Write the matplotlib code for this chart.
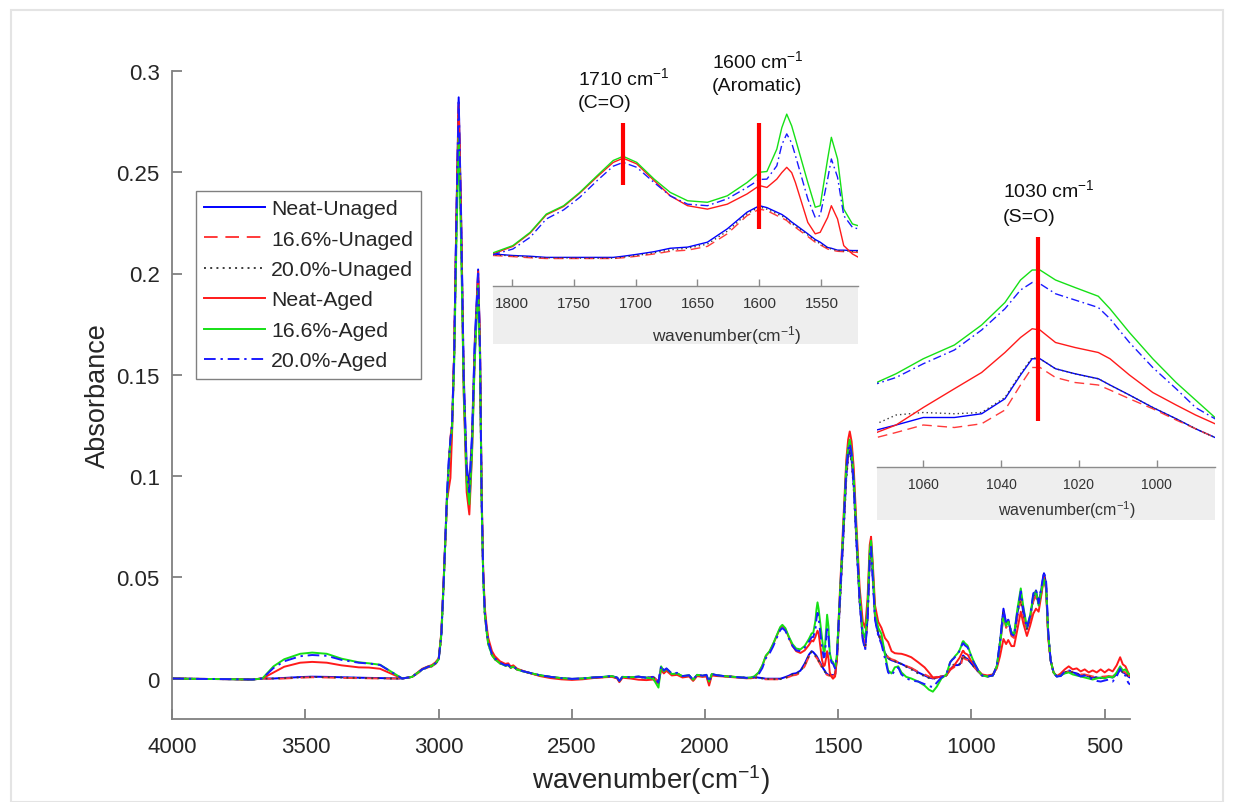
import matplotlib
matplotlib.use('Agg')
import matplotlib.pyplot as plt
from matplotlib.patches import Rectangle

plt.rcParams['font.family'] = ['Liberation Sans', 'DejaVu Sans']
plt.rcParams['mathtext.fontset'] = 'custom'
plt.rcParams['mathtext.rm'] = 'Liberation Sans'
plt.rcParams['mathtext.it'] = 'Liberation Sans:italic'
plt.rcParams['mathtext.bf'] = 'Liberation Sans:bold'

# ---------------- data (wavenumber in cm-1, absorbance) ----------------
wavenumber = [
    4000, 3900, 3800, 3700, 3662, 3620, 3580, 3520, 3475, 3420, 3365, 3300, 3262, 3220, 3180,
    3137, 3100, 3062, 3040, 3026, 3012, 3000, 2990, 2981, 2969, 2962, 2956, 2950, 2942, 2934,
    2925, 2916, 2906, 2895, 2885, 2875, 2865, 2852, 2845, 2839, 2833, 2827, 2820, 2814, 2800,
    2789, 2770, 2750, 2739, 2730, 2720, 2705, 2680, 2650, 2620, 2580, 2540, 2500, 2460, 2420,
    2380, 2350, 2330, 2322, 2310, 2280, 2250, 2220, 2195, 2175, 2165, 2155, 2145, 2125, 2105,
    2085, 2060, 2045, 2030, 2010, 1995, 1985, 1975, 1955, 1930, 1900, 1870, 1845, 1828,
    1815, 1799, 1785, 1772, 1758, 1745, 1731, 1718, 1710, 1699, 1685, 1672, 1658, 1642, 1626,
    1610, 1600, 1594, 1586, 1582, 1578, 1574, 1571, 1561, 1555, 1551, 1545, 1542, 1537, 1532,
    1525, 1520,
    1512, 1505, 1495, 1482, 1470, 1463, 1457, 1450, 1442, 1432, 1420, 1408, 1399, 1390, 1382,
    1377, 1371, 1362, 1350, 1338, 1325, 1313, 1300, 1288, 1275, 1263, 1245, 1226, 1200, 1176,
    1160, 1145, 1130, 1113, 1095, 1080,
    1072, 1067, 1060, 1052, 1045, 1039, 1035, 1032, 1030, 1026, 1021, 1015, 1012, 1007, 1001,
    995, 990, 985,
    975, 960, 940, 920, 905, 893, 880, 870, 862, 850, 840, 828, 815, 805, 792,
    780, 768, 758, 748, 738, 728, 720, 712, 703, 692, 680, 665, 650, 635, 620,
    605, 590, 575, 560, 545, 530, 515, 500, 485, 470, 455, 442, 432, 422, 412, 405,
]

neat_unaged = [
    0, -0.0002, -0.0003, -0.0005, 0, 0.0, 0.0003, 0.0007, 0.0009, 0.0008, 0.0006, 0.0004, 0.0003, 0.0002, 0.0001,
    0, 0.0008, 0.0045, 0.0058, 0.0062, 0.0075, 0.0095, 0.022, 0.049, 0.09, 0.108, 0.118, 0.125, 0.16, 0.225,
    0.287, 0.23, 0.15, 0.105, 0.095, 0.12, 0.165, 0.202, 0.165, 0.092, 0.052, 0.033, 0.024, 0.018, 0.012,
    0.01, 0.0078, 0.0065, 0.0068, 0.0055, 0.006, 0.0045, 0.0035, 0.0025, 0.0016, 0.0008, 0.0002, -0.0002, 0.0, 0.0005,
    0.0008, 0.0012, 0.0004, -0.0012, 0.0008, 0.0006, 0.0009, 0.0004, 0.0008, -0.0015, 0.0055, 0.003, 0.0045, 0.002, 0.0025,
    0.001, 0.0015, -0.0008, 0.0018, 0.0012, 0.0015, -0.002, 0.002, 0.0015, 0.0012, 0.0009, 0.0006, 0.0003, 0.0004,
    0.0008, 0.0004, 0.0002, -0.0001, -0.0001, -0.0001, -0.0001, -0.0001, 0.0002, 0.0007, 0.0014, 0.0023, 0.0026, 0.0039, 0.0074,
    0.0118, 0.0135, 0.0130, 0.0118, 0.0112, 0.0103, 0.0092, 0.0085, 0.0061, 0.0046, 0.0039, 0.0025, 0.0023, 0.0018, 0.0018,
    0.0017, 0.0017,
    0.002, 0.010, 0.035, 0.068, 0.100, 0.110, 0.113, 0.108, 0.095, 0.068, 0.038, 0.020, 0.015, 0.030, 0.060,
    0.067, 0.052, 0.030, 0.022, 0.018, 0.0125, 0.010, 0.009, 0.0085, 0.0078, 0.0072, 0.006, 0.005, 0.003, 0.0015,
    0.0005, 0.0, 0.0005, 0.001, 0.0015, 0.0045,
    0.0056, 0.0060, 0.0066, 0.0066, 0.0069, 0.0081, 0.0100, 0.0113, 0.0113, 0.0105, 0.0101, 0.0097, 0.0092, 0.0084, 0.0074,
    0.0065, 0.0057, 0.0050,
    0.0035, 0.0015, 0.001, 0.0015, 0.006, 0.018, 0.0345, 0.027, 0.029, 0.022, 0.021, 0.032, 0.041, 0.032, 0.0245,
    0.030, 0.040, 0.0435, 0.037, 0.044, 0.052, 0.047, 0.022, 0.009, 0.003, 0.001, 0.0015, 0.003, 0.0035, 0.003,
    0.0025, 0.0015, 0.0018, 0.001, 0.0005, 0.0005, 0.0002, 0.0005, 0.0008, 0.0005, 0.002, 0.0045, 0.003, 0.0025, 0.001, 0.0005,
]

p166_unaged = [
    0, -0.0002, -0.0003, -0.0005, 0, -0.0002, 0.0, 0.0004, 0.0006, 0.0005, 0.0003, 0.0002, 0.0001, 0.0, 0.0,
    0, 0.0008, 0.004, 0.0055, 0.006, 0.0072, 0.0092, 0.021, 0.048, 0.088, 0.106, 0.119, 0.126, 0.16, 0.222,
    0.283, 0.226, 0.146, 0.1, 0.089, 0.115, 0.16, 0.198, 0.162, 0.09, 0.051, 0.032, 0.023, 0.017, 0.0115,
    0.0095, 0.0075, 0.0062, 0.0065, 0.0053, 0.0058, 0.0043, 0.0033, 0.0024, 0.0015, 0.0007, 0.0001, -0.0003, -0.0001, 0.0004,
    0.0007, 0.001, 0.0003, -0.0013, 0.0007, 0.0005, 0.0008, 0.0003, 0.0007, -0.0016, 0.0052, 0.003, 0.0044, 0.002, 0.0024,
    0.001, 0.0014, -0.0008, 0.0017, 0.0011, 0.0014, -0.002, 0.002, 0.0015, 0.0012, 0.0009, 0.0006, 0.0002, 0.0001,
    0.0004, 0.0001, -0.0002, -0.0004, -0.0004, -0.0004, -0.0004, -0.0004, -0.0002, 0.0002, 0.0008, 0.0015, 0.0018, 0.0028, 0.0061,
    0.0109, 0.0126, 0.0122, 0.0109, 0.0103, 0.0096, 0.0084, 0.0078, 0.0054, 0.0039, 0.0032, 0.0021, 0.0018, 0.0015, 0.0014,
    0.0013, 0.0012,
    0.002, 0.010, 0.036, 0.070, 0.102, 0.112, 0.115, 0.110, 0.097, 0.070, 0.040, 0.021, 0.016, 0.031, 0.061,
    0.068, 0.053, 0.031, 0.023, 0.019, 0.013, 0.0105, 0.0095, 0.009, 0.008, 0.0075, 0.0062, 0.0052, 0.0033, 0.002,
    0.001, 0.0003, 0.0008, 0.0012, 0.0015, 0.0042,
    0.0050, 0.0054, 0.0060, 0.0058, 0.0061, 0.0072, 0.0092, 0.0106, 0.0106, 0.0098, 0.0094, 0.0092, 0.0088, 0.0081, 0.0073,
    0.0064, 0.0057, 0.0050,
    0.0035, 0.0015, 0.001, 0.0015, 0.006, 0.016, 0.031, 0.025, 0.027, 0.021, 0.020, 0.030, 0.039, 0.031, 0.024,
    0.029, 0.038, 0.041, 0.036, 0.042, 0.049, 0.045, 0.021, 0.009, 0.003, 0.001, 0.0015, 0.003, 0.0035, 0.0032,
    0.0028, 0.002, 0.002, 0.0015, 0.001, 0.0008, 0.0008, 0.001, 0.0012, 0.001, 0.0025, 0.005, 0.0035, 0.003, 0.0015, 0.001,
]

p200_unaged = [
    0, -0.0002, -0.0003, -0.0005, 0, 0.0, 0.0002, 0.0006, 0.0008, 0.0007, 0.0005, 0.0003, 0.0002, 0.0001, 0.0,
    0, 0.0008, 0.0042, 0.0056, 0.006, 0.0073, 0.0093, 0.021, 0.047, 0.087, 0.105, 0.116, 0.123, 0.158, 0.218,
    0.278, 0.222, 0.145, 0.1, 0.09, 0.115, 0.16, 0.196, 0.16, 0.089, 0.05, 0.032, 0.023, 0.017, 0.0115,
    0.0095, 0.0075, 0.0063, 0.0066, 0.0054, 0.0058, 0.0044, 0.0034, 0.0024, 0.0015, 0.0007, 0.0001, -0.0003, -0.0001, 0.0004,
    0.0007, 0.001, 0.0003, -0.0013, 0.0007, 0.0005, 0.0008, 0.0003, 0.0007, -0.0016, 0.0053, 0.003, 0.0044, 0.002, 0.0024,
    0.001, 0.0014, -0.0008, 0.0017, 0.0011, 0.0014, -0.002, 0.002, 0.0015, 0.0012, 0.0009, 0.0006, 0.0003, 0.0002,
    0.0006, 0.0003, 0.0, -0.0002, -0.0002, -0.0003, -0.0003, -0.0003, 0.0, 0.0004, 0.0011, 0.0019, 0.0023, 0.0034, 0.0068,
    0.0114, 0.0132, 0.0126, 0.0114, 0.0108, 0.0100, 0.0088, 0.0082, 0.0058, 0.0043, 0.0035, 0.0024, 0.0021, 0.0017, 0.0016,
    0.0015, 0.0015,
    0.002, 0.010, 0.034, 0.067, 0.099, 0.109, 0.112, 0.107, 0.094, 0.067, 0.038, 0.020, 0.015, 0.030, 0.059,
    0.066, 0.051, 0.030, 0.022, 0.018, 0.0125, 0.010, 0.009, 0.0085, 0.0078, 0.0072, 0.0058, 0.0045, 0.0025, 0.0012,
    0.0003, -0.0003, 0.0005, 0.001, 0.0015, 0.005,
    0.0061, 0.0068, 0.0070, 0.0069, 0.0070, 0.0082, 0.0101, 0.0114, 0.0113, 0.0105, 0.0101, 0.0097, 0.0092, 0.0084, 0.0074,
    0.0065, 0.0057, 0.0050,
    0.0035, 0.0015, 0.001, 0.0015, 0.006, 0.018, 0.034, 0.027, 0.029, 0.022, 0.021, 0.032, 0.040, 0.032, 0.0245,
    0.030, 0.040, 0.043, 0.037, 0.044, 0.051, 0.046, 0.022, 0.009, 0.003, 0.001, 0.0015, 0.003, 0.0035, 0.003,
    0.0025, 0.0015, 0.0015, 0.001, 0.0005, 0.0005, 0.0003, 0.0005, 0.0008, 0.0005, 0.002, 0.0045, 0.003, 0.0025, 0.001, 0.0005,
]

neat_aged = [
    0, -0.0002, -0.0003, -0.0005, 0, 0.003, 0.0058, 0.0078, 0.0082, 0.0078, 0.0065, 0.0055, 0.0054, 0.0048, 0.0025,
    0, 0.0008, 0.0048, 0.006, 0.0066, 0.008, 0.01, 0.023, 0.05, 0.088, 0.094, 0.099, 0.12, 0.16, 0.222,
    0.284, 0.226, 0.14, 0.092, 0.081, 0.11, 0.158, 0.201, 0.165, 0.094, 0.054, 0.035, 0.026, 0.02, 0.0135,
    0.011, 0.0085, 0.0072, 0.0075, 0.006, 0.0065, 0.0048, 0.0036, 0.0024, 0.0012, 0.0002, -0.0004, -0.0007, -0.0004, 0.0002,
    0.0006, 0.0008, 0.0, -0.0018, 0.0004, 0.0, -0.0006, -0.0008, -0.0005, -0.0025, 0.0045, 0.0025, 0.0038, 0.0015, 0.0018,
    0.0005, 0.001, -0.0012, 0.0012, 0.0008, 0.001, -0.0035, 0.0015, 0.0012, 0.001, 0.0007, 0.0004, 0.0001, 0.0003,
    0.0008, 0.0028, 0.0063, 0.0111, 0.0133, 0.0168, 0.0211, 0.0249, 0.0260, 0.0245, 0.0201, 0.0161, 0.0135, 0.0126, 0.0139,
    0.0166, 0.0188, 0.0183, 0.0205, 0.0222, 0.0236, 0.0222, 0.0196, 0.0091, 0.0061, 0.0065, 0.0104, 0.0135, 0.0100, 0.0030,
    0.0008, -0.0001,
    0.001, 0.010, 0.040, 0.075, 0.108, 0.118, 0.122, 0.117, 0.104, 0.076, 0.045, 0.028, 0.025, 0.040, 0.066,
    0.070, 0.058, 0.036, 0.028, 0.025, 0.020, 0.018, 0.0135, 0.0125, 0.0123, 0.0122, 0.0115, 0.0105, 0.008, 0.0055,
    0.003, 0.0005, 0.0005, 0.001, 0.0015, 0.0045,
    0.0054, 0.0060, 0.0074, 0.0089, 0.0102, 0.0118, 0.0130, 0.0137, 0.0136, 0.0126, 0.0122, 0.0118, 0.0113, 0.0100, 0.0086,
    0.0076, 0.0068, 0.0061,
    0.004, 0.002, 0.0015, 0.002, 0.005, 0.011, 0.0195, 0.017, 0.019, 0.016, 0.016, 0.024, 0.033, 0.027, 0.021,
    0.026, 0.032, 0.0345, 0.033, 0.041, 0.050, 0.044, 0.020, 0.009, 0.003, 0.0012, 0.0025, 0.0045, 0.006, 0.0045,
    0.005, 0.0035, 0.0045, 0.003, 0.004, 0.003, 0.0045, 0.003, 0.0045, 0.0035, 0.0065, 0.0105, 0.007, 0.006, 0.003, 0.0015,
]

p166_aged = [
    0, -0.0002, -0.0003, -0.0005, 0, 0.006, 0.0095, 0.0122, 0.0128, 0.0122, 0.0098, 0.008, 0.0075, 0.0068, 0.0035,
    0, 0.0008, 0.0045, 0.0058, 0.0062, 0.0075, 0.0095, 0.022, 0.048, 0.088, 0.105, 0.117, 0.123, 0.155, 0.212,
    0.268, 0.215, 0.142, 0.097, 0.086, 0.112, 0.156, 0.194, 0.158, 0.088, 0.05, 0.032, 0.023, 0.017, 0.0115,
    0.0095, 0.0075, 0.0063, 0.0066, 0.0054, 0.0058, 0.0044, 0.0034, 0.0025, 0.0016, 0.0008, 0.0002, -0.0002, 0.0, 0.0005,
    0.0008, 0.0012, 0.0004, -0.0012, 0.0008, 0.0006, 0.0009, 0.0004, 0.0, -0.0045, 0.006, 0.0035, 0.0048, 0.0022, 0.0025,
    0.0012, 0.0016, -0.0006, 0.0018, 0.0014, 0.0018, -0.0015, 0.0022, 0.0016, 0.0012, 0.0009, 0.0006, 0.0003, 0.0005,
    0.0011, 0.0030, 0.0065, 0.0113, 0.0135, 0.0170, 0.0214, 0.0254, 0.0265, 0.0249, 0.0205, 0.0170, 0.0148, 0.0144, 0.0161,
    0.0196, 0.0223, 0.0225, 0.0284, 0.0340, 0.0376, 0.0345, 0.0311, 0.0196, 0.0131, 0.0135, 0.0258, 0.0315, 0.0258, 0.0126,
    0.0087, 0.0082,
    0.005, 0.012, 0.038, 0.072, 0.105, 0.114, 0.118, 0.112, 0.099, 0.072, 0.041, 0.023, 0.020, 0.035, 0.063,
    0.068, 0.055, 0.032, 0.025, 0.022, 0.012, 0.004, 0.0025, 0.0055, 0.006, 0.003, 0.0008, 0.0, -0.0015, -0.0035,
    -0.0055, -0.0065, -0.004, 0.0, 0.0018, 0.008,
    0.0094, 0.0101, 0.0113, 0.0124, 0.0140, 0.0158, 0.0176, 0.0184, 0.0184, 0.0176, 0.0170, 0.0163, 0.0153, 0.0134, 0.0113,
    0.0094, 0.0080, 0.0066,
    0.004, 0.0015, 0.001, 0.0015, 0.006, 0.017, 0.031, 0.026, 0.028, 0.023, 0.022, 0.034, 0.0445, 0.035, 0.0255,
    0.031, 0.041, 0.043, 0.036, 0.043, 0.049, 0.045, 0.022, 0.009, 0.003, 0.001, 0.0015, 0.0025, 0.003, 0.002,
    0.0015, 0.001, 0.0005, 0.0, -0.0005, 0.0, 0.0005, 0.0, 0.001, 0.0005, 0.003, 0.006, 0.004, 0.0045, 0.0025, 0.002,
]

p200_aged = [
    0, -0.0002, -0.0003, -0.0005, 0, 0.0052, 0.0085, 0.011, 0.0116, 0.0112, 0.0092, 0.0078, 0.0074, 0.0067, 0.0034,
    0, 0.0008, 0.0045, 0.0058, 0.0062, 0.0075, 0.0095, 0.022, 0.049, 0.09, 0.107, 0.118, 0.125, 0.16, 0.224,
    0.286, 0.228, 0.148, 0.102, 0.092, 0.118, 0.163, 0.2, 0.163, 0.091, 0.052, 0.033, 0.024, 0.018, 0.012,
    0.01, 0.0078, 0.0065, 0.0068, 0.0055, 0.006, 0.0045, 0.0035, 0.0025, 0.0016, 0.0008, 0.0002, -0.0002, 0.0, 0.0005,
    0.0008, 0.0012, 0.0004, -0.0012, 0.0008, 0.0006, 0.0009, 0.0004, 0.0008, -0.002, 0.0065, 0.004, 0.005, 0.0025, 0.0028,
    0.0012, 0.0016, -0.0008, 0.002, 0.0014, 0.0018, -0.0018, 0.0022, 0.0016, 0.0012, 0.0009, 0.0006, 0.0003, 0.0003,
    0.0006, 0.0021, 0.0052, 0.0100, 0.0124, 0.0157, 0.0201, 0.0239, 0.0249, 0.0236, 0.0196, 0.0161, 0.0139, 0.0135, 0.0153,
    0.0183, 0.0204, 0.0205, 0.0240, 0.0295, 0.0324, 0.0300, 0.0267, 0.0153, 0.0104, 0.0109, 0.0205, 0.0258, 0.0210, 0.0109,
    0.0078, 0.0074,
    0.005, 0.012, 0.037, 0.071, 0.103, 0.113, 0.116, 0.111, 0.097, 0.070, 0.039, 0.019, 0.014, 0.030, 0.060,
    0.065, 0.050, 0.029, 0.021, 0.017, 0.010, 0.003, 0.0015, 0.004, 0.0055, 0.002, 0.0002, -0.001, -0.0015, -0.0028,
    -0.0038, -0.0042, -0.002, 0.0005, 0.0018, 0.008,
    0.0093, 0.0098, 0.0109, 0.0120, 0.0136, 0.0153, 0.0168, 0.0174, 0.0173, 0.0165, 0.0160, 0.0154, 0.0145, 0.0126, 0.0106,
    0.0089, 0.0074, 0.0065,
    0.004, 0.0015, 0.001, 0.0015, 0.006, 0.018, 0.0335, 0.027, 0.029, 0.022, 0.021, 0.033, 0.043, 0.034, 0.025,
    0.031, 0.042, 0.044, 0.037, 0.045, 0.0527, 0.048, 0.023, 0.009, 0.003, 0.001, 0.0012, 0.0035, 0.004, 0.0035,
    0.002, 0.001, 0.0015, 0.0005, -0.0005, -0.0012, -0.0015, -0.001, -0.0005, -0.0015, 0.001, 0.005, 0.002, 0.0015, -0.002, -0.003,
]

series_names = ['Neat-Unaged', '16.6%-Unaged', '20.0%-Unaged', 'Neat-Aged', '16.6%-Aged', '20.0%-Aged']
series_values = [neat_unaged, p166_unaged, p200_unaged, neat_aged, p166_aged, p200_aged]

main_xticks = [4000, 3500, 3000, 2500, 2000, 1500, 1000, 500]
main_yticks = [0, 0.05, 0.1, 0.15, 0.2, 0.25, 0.3]
main_ytick_labels = ['0', '0.05', '0.1', '0.15', '0.2', '0.25', '0.3']
inset1_xticks = [1800, 1750, 1700, 1650, 1600, 1550]
inset2_xticks = [1060, 1040, 1020, 1000]

# ---------------- styles ----------------
styles = [
    dict(color='#0000ff', linestyle='-'),
    dict(color='#ff3a3a', dashes=(7, 4)),
    dict(color='#3c3c3c', dashes=(1, 2.2)),
    dict(color='#ff1a1a', linestyle='-'),
    dict(color='#16e016', linestyle='-'),
    dict(color='#1a1aff', dashes=(6, 2.5, 1.2, 2.5)),
]

W, H = 1235, 803
fig = plt.figure(figsize=(W / 100, H / 100), dpi=100)


def fx(px):
    return px / W


def fy(py):
    return 1 - py / H


# outer light frame
fig.add_artist(Rectangle((fx(11), 0), fx(1223) - fx(11), fy(11), transform=fig.transFigure,
                         fill=False, edgecolor='#e4e4e4', lw=1.5, zorder=-5))

# ---------------- main axes ----------------
ax = fig.add_axes([fx(172.3), fy(720), fx(1130) - fx(172.3), fy(72) - fy(720)])
ax.set_facecolor('none')
lines = []
for name, vals, st in zip(series_names, series_values, styles):
    ln, = ax.plot(wavenumber, vals, lw=1.4, label=name, **st)
    lines.append(ln)

ax.set_xlim(4000, 405)
ax.set_ylim(-0.02, 0.3)
for s in ['top', 'right']:
    ax.spines[s].set_visible(False)
for s in ['left', 'bottom']:
    ax.spines[s].set_color('#808080')
    ax.spines[s].set_linewidth(1.3)
ax.set_xticks(main_xticks)
ax.set_xticklabels([str(t) for t in main_xticks])
ax.set_yticks(main_yticks)
ax.set_yticklabels(main_ytick_labels)
ax.tick_params(direction='in', length=7, width=1.3, color='#808080', labelsize=16, labelcolor='#262626')
ax.tick_params(axis='x', pad=12)
ax.tick_params(axis='y', pad=9)
ax.set_xlabel('wavenumber(cm$^{-1}$)', fontsize=20, color='#262626', labelpad=4)
ax.set_ylabel('Absorbance', fontsize=19.5, color='#262626', labelpad=4)

leg = ax.legend(loc='upper left', bbox_to_anchor=(fx(196), fy(192)), bbox_transform=fig.transFigure,
                fontsize=15.3, frameon=True, fancybox=False, edgecolor='#808080', framealpha=1,
                borderaxespad=0, handlelength=2.85, handletextpad=0.3, labelspacing=0.54,
                borderpad=0.38)
leg.get_frame().set_linewidth(1.0)
for t in leg.get_texts():
    t.set_color('#262626')

# ---------------- gray bands under insets ----------------
fig.add_artist(Rectangle((fx(493), fy(345)), fx(858) - fx(493), fy(287) - fy(345), transform=fig.transFigure,
                         facecolor='#eeeeee', edgecolor='none', zorder=1))
fig.add_artist(Rectangle((fx(877), fy(521)), fx(1215) - fx(877), fy(468) - fy(521), transform=fig.transFigure,
                         facecolor='#eeeeee', edgecolor='none', zorder=1))


def style_inset(a, ticks, labelsize):
    a.set_facecolor('none')
    for s in ['top', 'right', 'left']:
        a.spines[s].set_visible(False)
    a.spines['bottom'].set_color('#8c8c8c')
    a.spines['bottom'].set_linewidth(1.0)
    a.set_yticks([])
    a.set_xticks(ticks)
    a.set_xticklabels([str(t) for t in ticks])
    a.tick_params(axis='x', direction='in', length=5, width=1, color='#8c8c8c',
                  labelsize=labelsize, labelcolor='#333333', pad=7)


# ---------------- inset 1 (1815-1520) ----------------
ax1 = fig.add_axes([fx(493), fy(287), fx(858) - fx(493), fy(100) - fy(287)])
ax1.set_zorder(3)
for vals, st in zip(series_values, styles):
    ax1.plot(wavenumber, vals, lw=1.0, **st)
ax1.set_xlim(1815, 1520.5)
ax1.set_ylim(-0.00763, 0.04158)
style_inset(ax1, inset1_xticks, 11)
ax1.text(0.641, -0.257, 'wavenumber(cm$^{-1}$)', transform=ax1.transAxes, ha='center', va='center',
         fontsize=12.5, color='#333333')
ax1.plot([1710, 1710], [0.01895, 0.03526], color='#ff0000', lw=3, solid_capstyle='butt', clip_on=False)
ax1.plot([1600, 1600], [0.00737, 0.03526], color='#ff0000', lw=3, solid_capstyle='butt', clip_on=False)
ax1.text(1746.5, 0.04737, '1710 cm$^{-1}$', ha='left', va='center', fontsize=14, color='#111111')
ax1.text(1746.5, 0.04079, '(C=O)', ha='left', va='center', fontsize=14, color='#111111')
ax1.text(1638.4, 0.05184, '1600 cm$^{-1}$', ha='left', va='center', fontsize=14, color='#111111')
ax1.text(1638.4, 0.04526, '(Aromatic)', ha='left', va='center', fontsize=14, color='#111111')

# ---------------- inset 2 (1072-985) ----------------
ax2 = fig.add_axes([fx(877), fy(468), fx(1215) - fx(877), fy(230) - fy(468)])
ax2.set_zorder(3)
for vals, st in zip(series_values, styles):
    ax2.plot(wavenumber, vals, lw=1.0, **st)
ax2.set_xlim(1071.9, 985)
ax2.set_ylim(0.00264, 0.02168)
style_inset(ax2, inset2_xticks, 10)
ax2.text(0.561, -0.176, 'wavenumber(cm$^{-1}$)', transform=ax2.transAxes, ha='center', va='center',
         fontsize=11.5, color='#333333')
ax2.plot([1030.5, 1030.5], [0.00632, 0.02104], color='#ff0000', lw=3, solid_capstyle='butt', clip_on=False)
ax2.text(1039.5, 0.02488, '1030 cm$^{-1}$', ha='left', va='center', fontsize=14, color='#111111')
ax2.text(1039.5, 0.02264, '(S=O)', ha='left', va='center', fontsize=14, color='#111111')

fig.savefig('out.png', dpi=100)
